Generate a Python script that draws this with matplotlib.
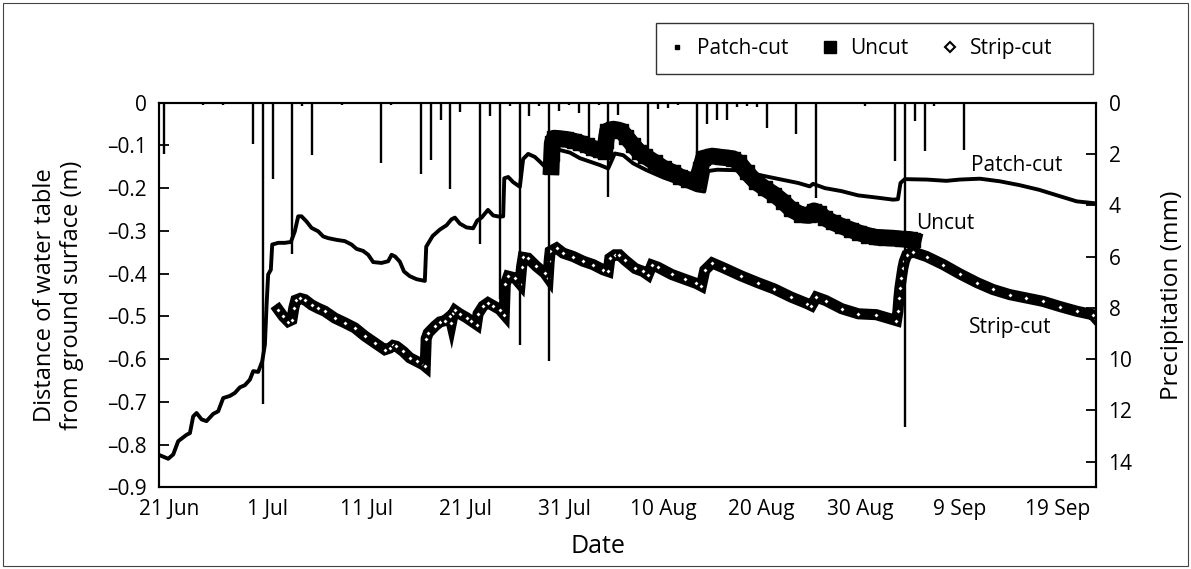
import numpy as np
import matplotlib.pyplot as plt
from matplotlib.lines import Line2D
from matplotlib.patches import Rectangle

plt.rcParams['font.family'] = ['Open Sans', 'DejaVu Sans']

# x values are days after 21 Jun
tick_days = [0, 10, 20, 30, 40, 50, 60, 70, 80, 90]
tick_labels = ['21 Jun', '1 Jul', '11 Jul', '21 Jul', '31 Jul',
               '10 Aug', '20 Aug', '30 Aug', '9 Sep', '19 Sep']
wt_ticks = [0, -0.1, -0.2, -0.3, -0.4, -0.5, -0.6, -0.7, -0.8, -0.9]
wt_labels = ['0', '–0.1', '–0.2', '–0.3', '–0.4', '–0.5', '–0.6', '–0.7', '–0.8', '–0.9']
rain_ticks = [0, 2, 4, 6, 8, 10, 12, 14]

# water table, patch-cut (m)
patch_day = [-0.9, -0.07, 0.44, 0.94, 1.79, 2.13, 2.46, 2.80, 3.31, 3.81, 4.49, 4.99,
             5.50, 6.18, 6.68, 7.19, 7.69, 8.20, 8.54, 9.04, 9.45, 9.72, 9.89, 10.05,
             10.32, 10.46, 11.07, 11.74, 12.35, 12.75, 13.09, 13.43, 13.93, 14.44, 15.11,
             15.62, 16.13, 16.97, 17.81, 18.49, 18.99, 19.67, 20.18, 20.68, 21.53, 22.20,
             22.54, 22.90, 23.38, 23.80, 24.39, 25.07, 25.91, 26.05, 26.70, 27.43, 28.10,
             28.61, 28.95, 29.45, 30.13, 30.80, 31.21, 31.65, 32.30, 32.83, 33.50, 33.84,
             33.95, 34.35, 34.85, 35.53, 35.86, 36.37, 37.04, 37.55, 38.06, 38.56, 38.80,
             39.58, 40.60, 41.60, 42.61, 43.62, 44.47, 45.14, 45.99, 46.99, 48.35, 50.03,
             51.72, 53.40, 54.20, 54.60, 55.50, 57.30, 58.98, 60.32, 62.00, 63.70, 64.88,
             65.20, 66.40, 68.08, 69.77, 71.60, 73.32, 73.80, 74.06, 74.50, 76.70, 78.70,
             80.07, 82.10, 84.10, 86.10, 88.10, 90.20, 91.90, 93.55]
patch_wt = [-0.825, -0.833, -0.823, -0.792, -0.777, -0.773, -0.734, -0.726, -0.741, -0.745,
            -0.728, -0.722, -0.691, -0.686, -0.679, -0.666, -0.661, -0.648, -0.628, -0.630,
            -0.605, -0.566, -0.473, -0.402, -0.391, -0.332, -0.328, -0.328, -0.326, -0.301,
            -0.266, -0.266, -0.278, -0.293, -0.301, -0.313, -0.317, -0.321, -0.324, -0.332,
            -0.342, -0.347, -0.356, -0.373, -0.375, -0.371, -0.356, -0.360, -0.372, -0.395,
            -0.406, -0.413, -0.417, -0.337, -0.312, -0.297, -0.287, -0.273, -0.269, -0.283,
            -0.292, -0.294, -0.276, -0.269, -0.251, -0.264, -0.267, -0.266, -0.177, -0.174,
            -0.186, -0.197, -0.132, -0.120, -0.127, -0.138, -0.150, -0.152, -0.105, -0.111,
            -0.117, -0.130, -0.138, -0.146, -0.154, -0.119, -0.123, -0.142, -0.158, -0.175,
            -0.189, -0.205, -0.208, -0.160, -0.157, -0.158, -0.165, -0.172, -0.180, -0.188,
            -0.196, -0.190, -0.200, -0.207, -0.217, -0.222, -0.227, -0.226, -0.188, -0.179,
            -0.180, -0.183, -0.180, -0.178, -0.184, -0.193, -0.204, -0.219, -0.231, -0.235]

# water table, uncut (m)
uncut_day = [38.7, 38.75, 38.8, 39.0, 39.5, 40.25, 41.0, 41.6, 42.3, 42.95, 43.62, 44.1,
             44.25, 44.4, 45.0, 45.8, 46.3, 47.0, 47.6, 48.2, 49.2, 50.1, 51.0, 51.72,
             52.5, 53.4, 53.8, 54.1, 55.0, 56.0, 57.1, 57.7, 58.5, 59.4, 60.3, 61.3, 62.2,
             63.0, 64.0, 64.8, 65.3, 65.8, 66.4, 67.2, 68.1, 69.0, 69.9, 70.8, 71.6, 72.5,
             73.3, 74.2, 75.0, 75.35]
uncut_wt = [-0.150, -0.120, -0.095, -0.083, -0.084, -0.086, -0.090, -0.094, -0.100, -0.107,
            -0.112, -0.115, -0.090, -0.066, -0.062, -0.066, -0.080, -0.100, -0.115, -0.125,
            -0.140, -0.154, -0.163, -0.173, -0.180, -0.184, -0.155, -0.130, -0.125, -0.128,
            -0.131, -0.140, -0.163, -0.185, -0.200, -0.215, -0.232, -0.250, -0.262, -0.264,
            -0.253, -0.258, -0.270, -0.280, -0.289, -0.297, -0.305, -0.311, -0.315, -0.316,
            -0.317, -0.319, -0.320, -0.322]

# water table, strip-cut (m)
strip_day = [11.07, 11.57, 12.08, 12.45, 12.65, 12.85, 13.3, 13.77, 14.44, 15.11, 15.79,
             16.8, 17.81, 18.83, 19.84, 20.85, 21.86, 22.37, 22.7, 23.04, 23.72, 24.39,
             25.07, 25.74, 25.95, 26.05, 26.25, 26.92, 27.43, 27.94, 28.45, 28.6, 28.8,
             28.95, 29.45, 30.13, 30.63, 31.14, 31.3, 31.8, 32.3, 32.83, 33.5, 33.95, 34.05,
             34.35, 35.03, 35.55, 35.7, 35.86, 36.37, 37.21, 38.05, 38.39, 38.5, 38.6,
             39.24, 39.91, 40.93, 41.94, 42.95, 43.96, 44.47, 44.64, 45.14, 45.6, 46.15,
             47.2, 48.0, 48.5, 48.9, 49.5, 50.9, 52.2, 53.4, 53.9, 54.25, 55.0, 56.2, 57.9,
             59.6, 61.3, 63.0, 64.6, 65.05, 65.55, 66.5, 68.1, 69.8, 71.6, 73.65, 73.8,
             73.9, 74.0, 74.15, 74.3, 74.45, 74.7, 75.3, 76.7, 78.4, 80.1, 81.8, 83.4,
             85.1, 86.8, 88.5, 90.2, 91.9, 93.5, 93.85]
strip_wt = [-0.484, -0.500, -0.512, -0.508, -0.480, -0.462, -0.458, -0.461, -0.473, -0.481,
            -0.488, -0.504, -0.515, -0.527, -0.546, -0.562, -0.578, -0.574, -0.568, -0.570,
            -0.582, -0.597, -0.605, -0.613, -0.617, -0.552, -0.539, -0.523, -0.513, -0.510,
            -0.500, -0.515, -0.492, -0.486, -0.494, -0.503, -0.511, -0.519, -0.494, -0.476,
            -0.468, -0.475, -0.484, -0.496, -0.425, -0.406, -0.410, -0.424, -0.385, -0.362,
            -0.364, -0.383, -0.399, -0.410, -0.370, -0.348, -0.340, -0.352, -0.360, -0.371,
            -0.379, -0.391, -0.395, -0.364, -0.356, -0.356, -0.368, -0.388, -0.395, -0.403,
            -0.380, -0.385, -0.402, -0.413, -0.423, -0.429, -0.392, -0.375, -0.387, -0.405,
            -0.421, -0.436, -0.455, -0.470, -0.475, -0.455, -0.463, -0.482, -0.494, -0.496,
            -0.510, -0.488, -0.457, -0.434, -0.410, -0.387, -0.371, -0.356, -0.349, -0.360,
            -0.379, -0.401, -0.421, -0.437, -0.449, -0.457, -0.465, -0.477, -0.488, -0.496,
            -0.505]

# daily precipitation (mm), day index after 21 Jun
rain_day = [-1, 3, 5, 8, 9, 10, 12, 13, 14, 17, 21, 22, 25, 26, 27, 28, 29, 31, 32, 33, 34,
            35, 36, 37, 38, 39, 40, 41, 42, 43, 44, 45, 48, 49, 50, 51, 52, 53, 54, 55, 56,
            57, 58, 59, 60, 61, 63, 65, 68, 69, 70, 73, 74, 75, 76, 77, 80]
rain_mm = [2.0, 0.08, 0.08, 1.6, 11.75, 2.96, 5.92, 0.15, 2.04, 0.08, 2.35, 0.1, 2.77, 2.25,
           0.69, 3.35, 0.35, 5.5, 0.54, 7.64, 0.15, 9.44, 0.53, 0.15, 10.07, 0.32, 0.1, 0.4,
           1.38, 0.1, 3.68, 0.48, 1.9, 0.25, 0.22, 0.08, 0.05, 3.42, 0.82, 0.69, 0.69, 0.18,
           0.15, 0.18, 1.0, 0.05, 1.21, 3.73, 0.05, 0.05, 0.15, 2.29, 12.66, 0.73, 1.87,
           0.15, 1.83]

W, H = 1191, 569
fs = 15
fig = plt.figure(figsize=(W / 100, H / 100), dpi=100)
ax = fig.add_axes([159 / W, 1 - 487.4 / H, (1096 - 159) / W, (487.4 - 102.6) / H])

ax.plot(patch_day, patch_wt, color='k', lw=2.8, solid_joinstyle='round', zorder=3)
ax.plot(strip_day, strip_wt, color='k', lw=8, solid_joinstyle='miter', zorder=3)
ax.plot(strip_day, strip_wt, ls='none', marker='D', ms=3.2, mfc='white', mec='k',
        mew=1.2, zorder=3.5)
ax.plot(uncut_day, uncut_wt, color='k', lw=12, marker='s', ms=10.5, zorder=4)

ax.set_xlim(-1.0, 93.85)
ax.set_ylim(-0.9, 0)
ax.set_xticks(tick_days)
ax.set_xticklabels(tick_labels)
ax.set_yticks(wt_ticks)
ax.set_yticklabels(wt_labels)
ax.tick_params(axis='y', direction='in', length=7, width=1.3, labelsize=fs, pad=9)
ax.tick_params(axis='x', length=0, labelsize=fs, pad=8)
for s in ax.spines.values():
    s.set_linewidth(1.5)

ax2 = ax.twinx()
ax2.vlines(np.array(rain_day) + 0.5, 0, rain_mm, color='k', lw=1.7)
ax2.set_ylim(15, 0)
ax2.set_yticks(rain_ticks)
ax2.tick_params(axis='y', direction='in', length=7, width=1.3, labelsize=fs, pad=9)
for s in ax2.spines.values():
    s.set_linewidth(1.5)

ax.set_ylabel('Distance of water table\nfrom ground surface (m)', fontsize=17,
              linespacing=1.15)
ax.yaxis.set_label_coords(-0.08, 0.5)
ax2.set_ylabel('Precipitation (mm)', fontsize=17.5)
ax2.yaxis.set_label_coords(1.068, 0.5)
ax.set_xlabel('Date', fontsize=18)
ax.xaxis.set_label_coords(0.4685, -0.122)

ax.text(85.8, -0.146, 'Patch-cut', ha='center', va='center', fontsize=fs)
ax.text(78.6, -0.282, 'Uncut', ha='center', va='center', fontsize=fs)
ax.text(85.2, -0.525, 'Strip-cut', ha='center', va='center', fontsize=fs)

handles = [Line2D([], [], ls='none', marker='s', ms=3, color='k'),
           Line2D([], [], ls='none', marker='s', ms=8, color='k'),
           Line2D([], [], ls='none', marker='D', ms=5, mfc='white', mec='k', mew=1.5)]
fig.legend(handles, ['Patch-cut', 'Uncut', 'Strip-cut'], loc='center left',
           bbox_to_anchor=(667 / W, 1 - 48.5 / H), ncol=3, frameon=False, fontsize=fs,
           handlelength=1.0, handletextpad=0.45, columnspacing=1.5,
           borderaxespad=0, borderpad=0)

# legend frame and outer figure border
fig.patches.append(Rectangle((656 / W, 1 - 74 / H), 437 / W, 51 / H, transform=fig.transFigure,
                             fill=False, ec='#333333', lw=1.0))
fig.patches.append(Rectangle((3 / W, 3 / H), 1185 / W, 563 / H, transform=fig.transFigure,
                             fill=False, ec='#444444', lw=0.8))

fig.savefig('out.png', dpi=100)
